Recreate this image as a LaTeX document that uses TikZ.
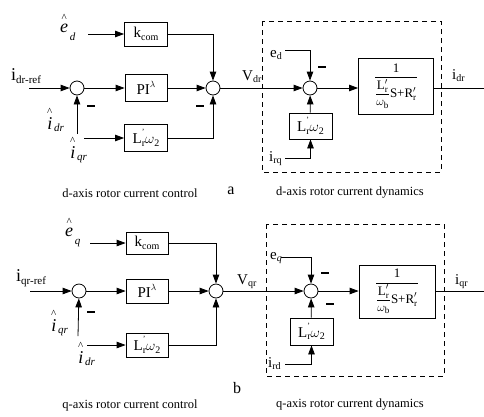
\documentclass[tikz,border=0pt]{standalone}
\usepackage{fontspec}
\usepackage{amsmath}
\setmainfont{Liberation Serif}
\usetikzlibrary{arrows.meta}
\newcommand\rsub[2][-0.35ex]{\raisebox{#1}{\fontsize{10}{10}\selectfont #2}}
\newcommand\hatlab[3][-7pt]{\begin{tabular}[b]{@{}c@{}}{\fontsize{11}{11}\selectfont\textasciicircum}\\[-2pt]{\fontsize{18}{18}\selectfont\textit{#2}}\end{tabular}\,\raisebox{#1}{\fontsize{11}{11}\selectfont\textit{#3}}}
\newcommand\bigsub[2]{{\fontsize{18}{18}\selectfont #1}\raisebox{-3pt}{\fontsize{11}{11}\selectfont #2}}
\newcommand\medsub[2]{{\fontsize{15}{15}\selectfont #1}\raisebox{-2.5pt}{\fontsize{10}{10}\selectfont #2}}
\newcommand\Lw{L\makebox[0pt][l]{\raisebox{1.3ex}{\fontsize{8}{8}\selectfont '}}\rsub{r}$\omega$\rsub{2}}
\newcommand\Tf{\fontsize{13}{13}\selectfont$\dfrac{\text{1}}{\dfrac{\text{L}'_{\text{r}}}{\omega_{\text{b}}}\text{S+R}'_{\text{r}}}$}
\newcommand\mns{\rule{8pt}{1.1pt}}
\begin{document}
\begin{tikzpicture}[x=1pt,y=-1pt,
  blk/.style={draw, line width=0.8pt, fill=white, inner sep=0pt, font=\fontsize{15}{15}\selectfont},
  sumc/.style={circle, draw, line width=0.8pt, fill=white, minimum size=14pt, inner sep=0pt},
  conn/.style={line width=0.8pt, -{Triangle[length=9pt,width=6.5pt]}},
  wire/.style={line width=0.8pt},
  lbl/.style={inner sep=0pt},
  minus/.style={inner sep=0pt},
  captxt/.style={inner sep=0pt, font=\fontsize{12.5}{12.5}\selectfont},
  letter/.style={inner sep=0pt, font=\fontsize{16}{16}\selectfont},
  dashbox/.style={draw, line width=0.8pt, dash pattern=on 5pt off 4pt}]
\useasboundingbox (0,0) rectangle (484,416);
% ================= top (d-axis) =================
\draw[dashbox] (262,21) rectangle (441,172);
\node[blk, minimum width=43pt, minimum height=24pt] (kc1) at (146,34) {k\rsub{com}};
\node[blk, minimum width=42pt, minimum height=27pt] (pi1) at (146,88) {PI\raisebox{1.1ex}{\fontsize{9}{9}\selectfont$\lambda$}};
\node[blk, minimum width=43pt, minimum height=27pt] (lw1) at (146,138) {\Lw};
\node[sumc] (s1) at (77,88) {};
\node[sumc] (s2) at (213,88) {};
\node[sumc] (s3) at (310,88) {};
\node[blk, minimum width=75pt, minimum height=56pt] (tf1) at (396,86) {\Tf};
\node[blk, minimum width=43pt, minimum height=26pt] (lw2) at (310.5,126) {\Lw};

\node[lbl, anchor=base west] (ed) at (60,32) {\hatlab[-8pt]{e}{d}};
\node[lbl, anchor=base west] (idref) at (11,80) {\bigsub{i}{dr-ref}};
\node[lbl, anchor=base west] (idrh) at (47,129) {\hatlab[-2pt]{i}{dr}};
\node[lbl, anchor=base west] (iqrh) at (70,158) {\hatlab[-2pt]{i}{qr}};
\node[lbl, anchor=base west] (vdr) at (242,80) {\medsub{V}{dr}};
\node[lbl, anchor=base west] (ed2) at (270,57) {\medsub{e}{d}};
\node[lbl, anchor=base west] (irq) at (269,161) {\medsub{i}{rq}};
\node[lbl, anchor=base west] (idr) at (452,79) {\medsub{i}{dr}};

\coordinate (edin) at (88,34);
\coordinate (irefin) at (29,88);
\coordinate (idrin) at (77,134);
\coordinate (iqrin) at (84,138);
\coordinate (ed2in) at (285,50);
\coordinate (irqin) at (285,158);
\coordinate (idrout) at (484,88);

\draw[conn] (edin) -- (kc1);
\draw[conn] (kc1) -| (s2);
\draw[conn] (irefin) -- (s1);
\draw[conn] (s1) -- (pi1);
\draw[conn] (pi1) -- (s2);
\draw[conn] (idrin) -- (s1);
\draw[conn] (iqrin) -- (lw1);
\draw[conn] (lw1) -| (s2);
\draw[conn] (s2) -- (s3);
\draw[conn] (ed2in) -| (s3);
\draw[conn] (s3) -- (s3 -| tf1.west);
\draw[conn] (lw2) -- (s3);
\draw[conn] (irqin) -| (lw2);
\draw[wire] (tf1.east |- idrout) -- (idrout);

\node[minus] (m1) at (91,106) {\mns};
\node[minus] (m2) at (200,106) {\mns};
\node[minus] (m3) at (322,67) {\mns};

\node[captxt] (c1) at (130,193) {d-axis rotor current control};
\node[letter] (la) at (231,191) {a};
\node[captxt] (c2) at (350,193) {d-axis rotor current dynamics};

% ================= bottom (q-axis) =================
\draw[dashbox] (266,224) rectangle (444,376);
\node[blk, minimum width=42pt, minimum height=22pt] (kc2) at (147,243) {k\rsub{com}};
\node[blk, minimum width=42pt, minimum height=24pt] (pi2) at (147,291) {PI\raisebox{1.1ex}{\fontsize{9}{9}\selectfont$\lambda$}};
\node[blk, minimum width=42pt, minimum height=24pt] (lw3) at (147,345) {\Lw};
\node[sumc] (t1) at (79,291) {};
\node[sumc] (t2) at (216,291) {};
\node[sumc] (t3) at (311,291) {};
\node[blk, minimum width=76pt, minimum height=53pt] (tf2) at (397,291.5) {\Tf};
\node[blk, minimum width=43pt, minimum height=27pt] (lw4) at (311.5,331.5) {\Lw};

\node[lbl, anchor=base west] (eq) at (65,236) {\hatlab[-8pt]{e}{q}};
\node[lbl, anchor=base west] (iqref) at (16,281) {\bigsub{i}{qr-ref}};
\node[lbl, anchor=base west] (iqrh2) at (51,331) {\hatlab[-2pt]{i}{qr}};
\node[lbl, anchor=base west] (idrh2) at (78,363) {\hatlab[-2pt]{i}{dr}};
\node[lbl, anchor=base west] (vqr) at (237,284) {\medsub{V}{qr}};
\node[lbl, anchor=base west] (eq2) at (270,259) {\medsub{e}{\textit{q}}};
\node[lbl, anchor=base west] (ird) at (268,367) {\medsub{i}{rd}};
\node[lbl, anchor=base west] (iqr) at (455,284) {\medsub{i}{qr}};

\coordinate (eqin) at (90,243);
\coordinate (iqrefin) at (30,291);
\coordinate (iqrin2) at (78,336);
\coordinate (idrin2) at (87,345);
\coordinate (eq2in) at (281,257);
\coordinate (irdin) at (285,364);
\coordinate (iqrout) at (484,291);

\draw[conn] (eqin) -- (kc2);
\draw[conn] (kc2) -| (t2);
\draw[conn] (iqrefin) -- (t1);
\draw[conn] (t1) -- (pi2);
\draw[conn] (pi2) -- (t2);
\draw[conn] (iqrin2) -- (t1);
\draw[conn] (idrin2) -- (lw3);
\draw[conn] (lw3) -| (t2);
\draw[conn] (t2) -- (t3);
\draw[conn] (eq2in) -| (t3);
\draw[conn] (t3) -- (t3 -| tf2.west);
\draw[conn] (lw4) -- (t3);
\draw[conn] (irdin) -| (lw4);
\draw[wire] (tf2.east |- iqrout) -- (iqrout);

\node[minus] (m4) at (91,312) {\mns};
\node[minus] (m5) at (325,273) {\mns};
\node[minus] (m6) at (330,304) {\mns};

\node[letter] (lb) at (237,388) {b};
\node[captxt] (c3) at (130,405) {q-axis rotor current control};
\node[captxt] (c4) at (350,405) {q-axis rotor current dynamics};
\end{tikzpicture}
\end{document}
